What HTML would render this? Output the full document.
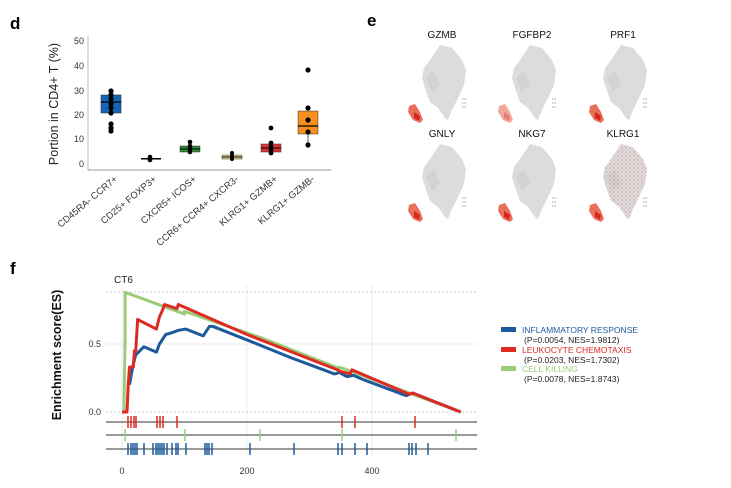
<!DOCTYPE html>
<html><head><meta charset="utf-8"><style>
body{margin:0;background:#fff}
svg{display:block;font-family:"Liberation Sans",sans-serif}
</style></head><body>
<svg width="731" height="488" viewBox="0 0 731 488">
<defs>
<g id="umap">
<path d="M40,5 L52,8 L62,20 L66,30 L64,45 L58,58 L52,70 L48,80 L45,78 L38,68 L30,62 L25,48 L22,38 L24,28 L30,20 Z" fill="#dcdcdc"/>
<path d="M26,38 L34,30 L40,44 L32,52 Z" fill="#d2d2d2"/>
<text x="62" y="60" font-size="3" fill="#888">2.0</text>
<text x="62" y="64" font-size="3" fill="#888">1.0</text>
<text x="62" y="68" font-size="3" fill="#888">0.0</text>
</g>
<g id="red"><path d="M9,66 L15,64 L20,72 L23,80 L20,83 L13,80 L8,72 Z" fill="#e8705a"/><path d="M14,72 L20,76 L19,81 L14,78 Z" fill="#d8261e"/></g>
<pattern id="dots" width="4" height="4" patternUnits="userSpaceOnUse"><circle cx="1" cy="1" r="0.6" fill="#c0392b" opacity="0.6"/><circle cx="3" cy="3" r="0.5" fill="#c0392b" opacity="0.4"/></pattern>
</defs>
<!-- d -->
<text x="10" y="29" font-size="17" font-weight="bold">d</text>
<line x1="88" y1="36" x2="88" y2="170" stroke="#bbb" stroke-width="1"/>
<line x1="88" y1="170" x2="331" y2="170" stroke="#bbb" stroke-width="1.5"/>
<g font-size="9" fill="#333" text-anchor="end">
<text x="84" y="44">50</text><text x="84" y="69">40</text><text x="84" y="94">30</text><text x="84" y="118">20</text><text x="84" y="142">10</text><text x="84" y="167">0</text>
</g>
<text transform="translate(58,104) rotate(-90)" font-size="12.5" text-anchor="middle" fill="#222">Portion in CD4+ T (%)</text>
<line x1="111" y1="124" x2="111" y2="131" stroke="#000"/>
<rect x="101" y="95" width="20" height="18" fill="#1565b4" stroke="#333" stroke-width="0.6"/>
<line x1="101" y1="102" x2="121" y2="102" stroke="#000" stroke-width="1.3"/>
<g fill="#000"><circle cx="111" cy="91" r="2.6"/><circle cx="111" cy="95" r="2.6"/><circle cx="111" cy="99" r="2.6"/><circle cx="111" cy="104" r="2.6"/><circle cx="111" cy="108" r="2.6"/><circle cx="111" cy="113" r="2.6"/><circle cx="111" cy="124" r="2.6"/><circle cx="111" cy="128" r="2.6"/><circle cx="111" cy="131" r="2.6"/></g>
<rect x="141" y="158" width="20" height="1.5" fill="#000"/><circle cx="150" cy="157" r="2.3"/><circle cx="150" cy="160" r="2.3"/>
<rect x="180" y="146" width="20" height="6" fill="#2e8b3a" stroke="#333" stroke-width="0.5"/><line x1="180" y1="149" x2="200" y2="149" stroke="#000"/>
<g fill="#000"><circle cx="190" cy="142" r="2.3"/><circle cx="190" cy="146" r="2.3"/><circle cx="190" cy="149" r="2.3"/><circle cx="190" cy="152" r="2.3"/></g>
<rect x="222" y="155" width="20" height="4" fill="#e8d990" stroke="#333" stroke-width="0.5"/><line x1="222" y1="157" x2="242" y2="157" stroke="#000"/>
<g fill="#000"><circle cx="232" cy="153" r="2"/><circle cx="232" cy="156" r="2"/><circle cx="232" cy="159" r="2"/></g>
<rect x="261" y="144" width="20" height="8" fill="#d8343a" stroke="#333" stroke-width="0.5"/><line x1="261" y1="148" x2="281" y2="148" stroke="#000"/>
<g fill="#000"><circle cx="271" cy="128" r="2.4"/><circle cx="271" cy="143" r="2.4"/><circle cx="271" cy="147" r="2.4"/><circle cx="271" cy="150" r="2.4"/><circle cx="271" cy="153" r="2.4"/></g>
<line x1="308" y1="134" x2="308" y2="145" stroke="#666"/>
<rect x="298" y="111" width="20" height="23" fill="#f5901e" stroke="#333" stroke-width="0.5"/><line x1="298" y1="126" x2="318" y2="126" stroke="#000" stroke-width="1.3"/>
<g fill="#000"><circle cx="308" cy="70" r="2.6"/><circle cx="308" cy="108" r="2.6"/><circle cx="308" cy="120" r="2.6"/><circle cx="308" cy="132" r="2.6"/><circle cx="308" cy="145" r="2.6"/></g>
<g font-size="9.5" fill="#333" text-anchor="end">
<text transform="translate(118,180) rotate(-40)">CD45RA- CCR7+</text>
<text transform="translate(157,180) rotate(-40)">CD25+ FOXP3+</text>
<text transform="translate(197,180) rotate(-40)">CXCR5+ ICOS+</text>
<text transform="translate(239,180) rotate(-40)">CCR6+ CCR4+ CXCR3-</text>
<text transform="translate(278,180) rotate(-40)">KLRG1+ GZMB+</text>
<text transform="translate(315,180) rotate(-40)">KLRG1+ GZMB-</text>
</g>
<!-- e -->
<text x="367" y="26" font-size="17" font-weight="bold">e</text>
<g font-size="10" text-anchor="middle" fill="#111">
<text x="442" y="38">GZMB</text><text x="532" y="38">FGFBP2</text><text x="623" y="38">PRF1</text>
<text x="442" y="137">GNLY</text><text x="532" y="137">NKG7</text><text x="623" y="137">KLRG1</text>
</g>
<use href="#umap" x="400" y="40"/><use href="#red" x="400" y="40"/>
<use href="#umap" x="490" y="40"/><use href="#red" x="490" y="40" opacity="0.6"/>
<use href="#umap" x="581" y="40"/><use href="#red" x="581" y="40"/>
<use href="#umap" x="400" y="139"/><use href="#red" x="400" y="139"/>
<use href="#umap" x="490" y="139"/><use href="#red" x="490" y="139"/>
<use href="#umap" x="581" y="139"/><use href="#red" x="581" y="139"/>
<path transform="translate(581,139)" d="M40,5 L52,8 L62,20 L66,30 L64,45 L58,58 L52,70 L48,80 L45,78 L38,68 L30,62 L25,48 L22,38 L24,28 L30,20 Z" fill="url(#dots)"/>
<!-- f -->
<text x="10" y="274" font-size="17" font-weight="bold">f</text>
<text x="114" y="283" font-size="10" fill="#222">CT6</text>
<text transform="translate(61,355) rotate(-90)" font-size="12.5" font-weight="bold" text-anchor="middle" fill="#111">Enrichment score(ES)</text>
<g stroke="#e4e4e4" stroke-width="0.7">
<line x1="106" y1="344" x2="477" y2="344"/><line x1="122" y1="285" x2="122" y2="458"/><line x1="247" y1="285" x2="247" y2="458"/><line x1="372" y1="285" x2="372" y2="458"/>
</g>
<g stroke="#bbb" stroke-dasharray="2,2" stroke-width="0.8">
<line x1="106" y1="292" x2="477" y2="292"/><line x1="106" y1="412" x2="477" y2="412"/>
</g>
<g font-size="9" fill="#333" text-anchor="end"><text x="101" y="347">0.5</text><text x="101" y="415">0.0</text></g>
<g font-size="9" fill="#333" text-anchor="middle"><text x="122" y="474">0</text><text x="247" y="474">200</text><text x="372" y="474">400</text></g>
<g transform="translate(122,412) scale(0.625,-136)" fill="none" stroke-width="3" stroke-linejoin="round">
<polyline vector-effect="non-scaling-stroke" stroke="#9ccc78" points="3,0 5,0.55 5,0.88 100,0.72 100,0.74 220,0.55 348,0.32 348,0.33 542,0"/>
<polyline vector-effect="non-scaling-stroke" stroke="#1c5a9c" points="12,0.2 15,0.28 18,0.35 22,0.42 35,0.48 55,0.44 60,0.5 70,0.57 78,0.58 90,0.6 102,0.61 130,0.56 140,0.63 145,0.63 200,0.53 270,0.4 340,0.28 348,0.29 360,0.26 370,0.27 385,0.24 455,0.12 465,0.14 542,0"/>
<polyline vector-effect="non-scaling-stroke" stroke="#dd2a22" points="0,0 8,0 10,0.2 12,0.33 18,0.33 20,0.45 22,0.45 25,0.68 55,0.61 60,0.7 65,0.75 68,0.79 88,0.76 90,0.79 200,0.57 345,0.31 348,0.3 365,0.28 368,0.31 460,0.13 465,0.14 542,0"/>
</g>
<g stroke="#333" stroke-width="1"><line x1="106" y1="422" x2="477" y2="422"/><line x1="106" y1="435" x2="477" y2="435"/><line x1="106" y1="449" x2="477" y2="449"/></g>
<g stroke="#dd2a22" stroke-width="1.5">
<line x1="128" y1="416" x2="128" y2="428"/><line x1="131" y1="416" x2="131" y2="428"/><line x1="134" y1="416" x2="134" y2="428"/><line x1="136" y1="416" x2="136" y2="428"/><line x1="157" y1="416" x2="157" y2="428"/><line x1="160" y1="416" x2="160" y2="428"/><line x1="163" y1="416" x2="163" y2="428"/><line x1="177" y1="416" x2="177" y2="428"/><line x1="342" y1="416" x2="342" y2="428"/><line x1="355" y1="416" x2="355" y2="428"/><line x1="415" y1="416" x2="415" y2="428"/>
</g>
<g stroke="#9ccc78" stroke-width="1.5">
<line x1="125" y1="429" x2="125" y2="441"/><line x1="185" y1="429" x2="185" y2="441"/><line x1="260" y1="429" x2="260" y2="441"/><line x1="342" y1="429" x2="342" y2="441"/><line x1="456" y1="429" x2="456" y2="441"/>
</g>
<g stroke="#1c5a9c" stroke-width="1.5">
<line x1="128" y1="443" x2="128" y2="455"/><line x1="131" y1="443" x2="131" y2="455"/><line x1="133" y1="443" x2="133" y2="455"/><line x1="135" y1="443" x2="135" y2="455"/><line x1="137" y1="443" x2="137" y2="455"/><line x1="144" y1="443" x2="144" y2="455"/><line x1="153" y1="443" x2="153" y2="455"/><line x1="156" y1="443" x2="156" y2="455"/><line x1="158" y1="443" x2="158" y2="455"/><line x1="160" y1="443" x2="160" y2="455"/><line x1="162" y1="443" x2="162" y2="455"/><line x1="164" y1="443" x2="164" y2="455"/><line x1="167" y1="443" x2="167" y2="455"/><line x1="172" y1="443" x2="172" y2="455"/><line x1="176" y1="443" x2="176" y2="455"/><line x1="178" y1="443" x2="178" y2="455"/><line x1="186" y1="443" x2="186" y2="455"/><line x1="205" y1="443" x2="205" y2="455"/><line x1="207" y1="443" x2="207" y2="455"/><line x1="209" y1="443" x2="209" y2="455"/><line x1="212" y1="443" x2="212" y2="455"/><line x1="250" y1="443" x2="250" y2="455"/><line x1="294" y1="443" x2="294" y2="455"/><line x1="338" y1="443" x2="338" y2="455"/><line x1="342" y1="443" x2="342" y2="455"/><line x1="355" y1="443" x2="355" y2="455"/><line x1="367" y1="443" x2="367" y2="455"/><line x1="409" y1="443" x2="409" y2="455"/><line x1="412" y1="443" x2="412" y2="455"/><line x1="416" y1="443" x2="416" y2="455"/><line x1="428" y1="443" x2="428" y2="455"/>
</g>
<!-- legend -->
<rect x="501" y="327" width="15" height="5" fill="#1c5a9c"/>
<rect x="501" y="347" width="15" height="5" fill="#dd2a22"/>
<rect x="501" y="366" width="15" height="5" fill="#9ccc78"/>
<g font-size="8.5">
<text x="522" y="333" fill="#1c5a9c">INFLAMMATORY RESPONSE</text>
<text x="524" y="343" fill="#222">(P=0.0054, NES=1.9812)</text>
<text x="522" y="353" fill="#dd2a22">LEUKOCYTE CHEMOTAXIS</text>
<text x="524" y="363" fill="#222">(P=0.0203, NES=1.7302)</text>
<text x="522" y="372" fill="#9ccc78">CELL KILLING</text>
<text x="524" y="382" fill="#222">(P=0.0078, NES=1.8743)</text>
</g>
</svg>
</body></html>
